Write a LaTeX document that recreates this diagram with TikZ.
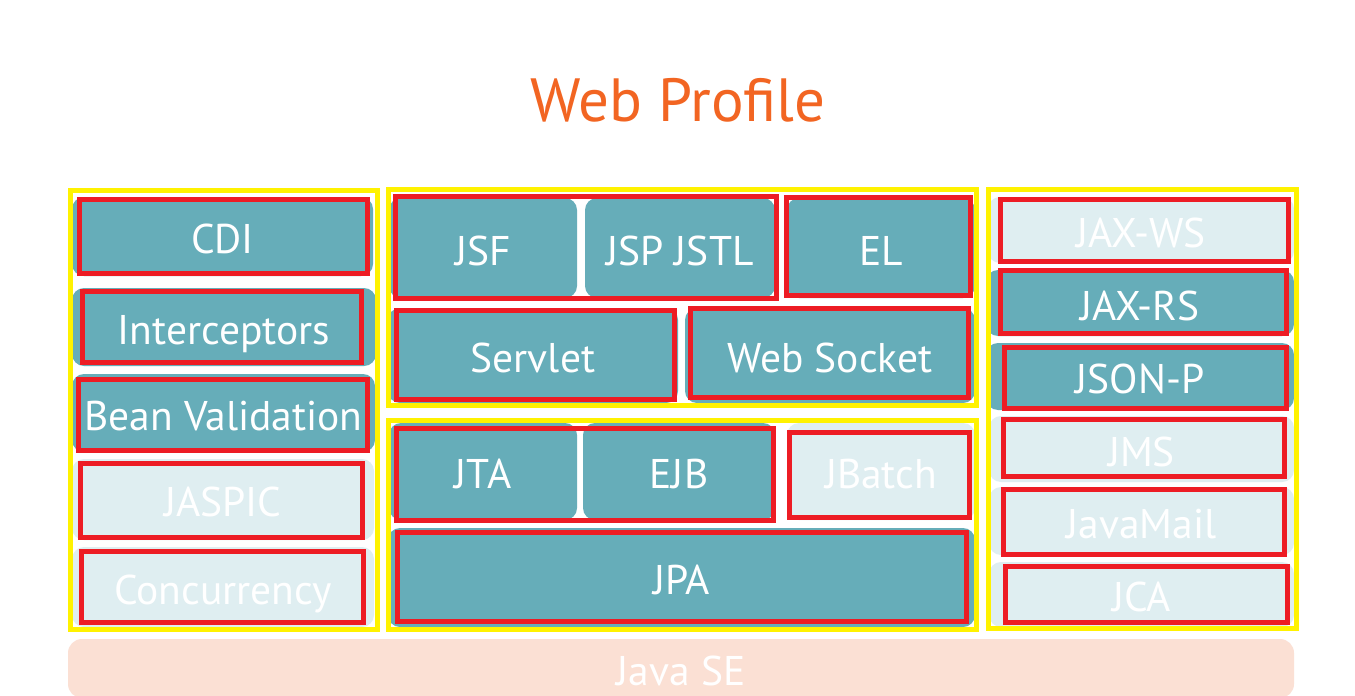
\documentclass[tikz,border=0pt]{standalone}
\usepackage{fontspec}
\setmainfont{PT Sans}
\definecolor{teal1}{HTML}{66ADB9}
\definecolor{light1}{HTML}{DFEEF1}
\definecolor{red1}{HTML}{ED1C24}
\definecolor{yel1}{HTML}{FFF200}
\definecolor{org1}{HTML}{F26522}
\definecolor{peach1}{HTML}{FBE0D4}
\newcommand\mybx[7]{%
  \pgfmathsetmacro\bxcx{(#3+#5)/2}\pgfmathsetmacro\bxcy{(#4+#6)/2}%
  \pgfmathsetmacro\bxw{#5-#3}\pgfmathsetmacro\bxh{#6-#4}%
  \node[#2, minimum width=\bxw pt, minimum height=\bxh pt] (#1) at (\bxcx,\bxcy) {#7};}
\newcommand\myrr[4]{\draw[redline] (#1,#2) rectangle (#3,#4);}
\newcommand\myyy[4]{\draw[yelline] (#1,#2) rectangle (#3,#4);}
\tikzset{
  base/.style={inner sep=0pt, outer sep=0pt, rounded corners=12pt, text=white,
    font=\fontsize{41.5}{44}\selectfont, text height=34pt, text depth=0pt},
  tb/.style={base, fill=teal1},
  lb/.style={base, fill=light1},
  sebox/.style={base, fill=peach1, rounded corners=14pt},
  redline/.style={draw=red1, line width=5pt},
  yelline/.style={draw=yel1, line width=5pt},
  title/.style={text=org1, font=\fontsize{61}{63}\selectfont, inner sep=0pt}
}
\begin{document}
\begin{tikzpicture}[x=1pt,y=-1pt]
\useasboundingbox[fill=white] (0,0) rectangle (1355,696);
\node[title] (title) at (678,100) {Web Profile};
% Java SE
\mybx{javase}{sebox}{68}{639}{1294}{698}{Java SE}
% left column
\mybx{cdi}{tb}{72}{197}{373}{276}{CDI}
\mybx{inter}{tb}{72}{288}{376}{366}{Interceptors}
\mybx{bean}{tb}{72}{374}{375}{452}{Bean Validation}
\mybx{jaspic}{lb}{72}{459}{374}{540}{JASPIC}
\mybx{conc}{lb}{72}{547}{374}{627}{Concurrency}
% middle top
\mybx{jsf}{tb}{389}{198}{577}{298}{JSF}
\mybx{jsp}{tb}{585}{198}{775}{298}{JSP JSTL}
\mybx{el}{tb}{787}{198}{975}{298}{EL}
\mybx{servlet}{tb}{388}{308}{678}{403}{Servlet}
\mybx{websocket}{tb}{685}{308}{975}{403}{Web Socket}
% middle bottom
\mybx{jta}{tb}{389}{423}{577}{520}{JTA}
\mybx{ejb}{tb}{583}{423}{775}{520}{EJB}
\mybx{jbatch}{lb}{787}{423}{975}{520}{JBatch}
\mybx{jpa}{tb}{388}{528}{975}{627}{JPA}
% right column
\mybx{jaxws}{lb}{988}{197}{1294}{263}{JAX-WS}
\mybx{jaxrs}{tb}{986}{270}{1294}{336}{JAX-RS}
\mybx{jsonp}{tb}{986}{343}{1294}{410}{JSON-P}
\mybx{jms}{lb}{989}{416}{1294}{482}{JMS}
\mybx{javamail}{lb}{989}{487}{1294}{555}{JavaMail}
\mybx{jca}{lb}{989}{562}{1294}{627}{JCA}
% yellow frames
\myyy{70}{190}{377}{629}
\myyy{388}{189}{976}{405}
\myyy{388}{420}{976}{629}
\myyy{988}{189}{1296}{628}
% red frames
\myrr{79}{199}{367}{273}
\myrr{82}{291}{361}{362}
\myrr{78}{379}{367}{450}
\myrr{80}{463}{362}{537}
\myrr{81}{551}{363}{622}
\myrr{395}{196}{776}{298}
\myrr{786}{197}{970}{295}
\myrr{396}{310}{674}{399}
\myrr{690}{308}{968}{397}
\myrr{396}{428}{773}{520}
\myrr{789}{432}{969}{517}
\myrr{397}{532}{966}{621}
\myrr{1000}{199}{1288}{261}
\myrr{1000}{270}{1286}{333}
\myrr{1004}{347}{1286}{408}
\myrr{1003}{419}{1284}{476}
\myrr{1003}{489}{1284}{554}
\myrr{1005}{566}{1287}{622}
\end{tikzpicture}
\end{document}
